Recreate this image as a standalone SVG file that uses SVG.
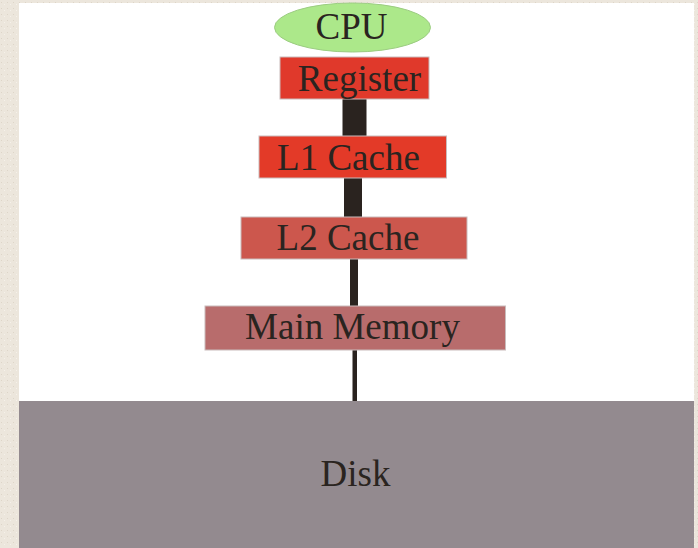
<svg xmlns="http://www.w3.org/2000/svg" width="698" height="548" viewBox="0 0 698 548">
<defs>
<style>
.lbl{font-family:"Liberation Serif","Times New Roman",serif;font-size:37px;fill:#2a2420;text-anchor:middle}
.bar{fill:#2a231f}
.box{stroke:#c9bcbc;stroke-width:1}
</style>
<pattern id="paper" width="6" height="6" patternUnits="userSpaceOnUse">
<rect width="6" height="6" fill="#ece6dc"/>
<rect x="1" y="2" width="1" height="1" fill="#ddd5c8"/>
<rect x="4" y="4" width="1" height="1" fill="#f5f1ea"/>
</pattern>
</defs>
<rect width="698" height="548" fill="url(#paper)"/>
<rect x="19" y="3" width="675" height="398" fill="#ffffff"/>
<g id="connectors">
<rect class="bar" x="342.5" y="98" width="24" height="40"/>
<rect class="bar" x="344" y="177" width="18" height="41"/>
<rect class="bar" x="350" y="258" width="8" height="49"/>
<rect class="bar" x="352.5" y="349" width="4.5" height="53"/>
</g>
<g id="disk">
<rect x="19" y="401" width="675" height="147" fill="#938a8f"/>
<text class="lbl" x="355.5" y="486">Disk</text>
</g>
<g id="cpu">
<ellipse cx="352.5" cy="27.5" rx="78" ry="24.5" fill="#ace88a" stroke="#9ccc82" stroke-width="1"/>
<text class="lbl" x="351.5" y="39">CPU</text>
</g>
<g id="register">
<rect class="box" x="280" y="57" width="149" height="42" fill="#e0392b"/>
<text class="lbl" x="359.5" y="91">Register</text>
</g>
<g id="l1cache">
<rect class="box" x="259" y="136" width="187.5" height="42" fill="#e33a28"/>
<text class="lbl" x="348.5" y="170">L1 Cache</text>
</g>
<g id="l2cache">
<rect class="box" x="241" y="217" width="226" height="42" fill="#cc574d"/>
<text class="lbl" x="348" y="250">L2 Cache</text>
</g>
<g id="mainmemory">
<rect class="box" x="205" y="306" width="300.5" height="44" fill="#b86c6c"/>
<text class="lbl" x="352.5" y="339">Main Memory</text>
</g>
</svg>
